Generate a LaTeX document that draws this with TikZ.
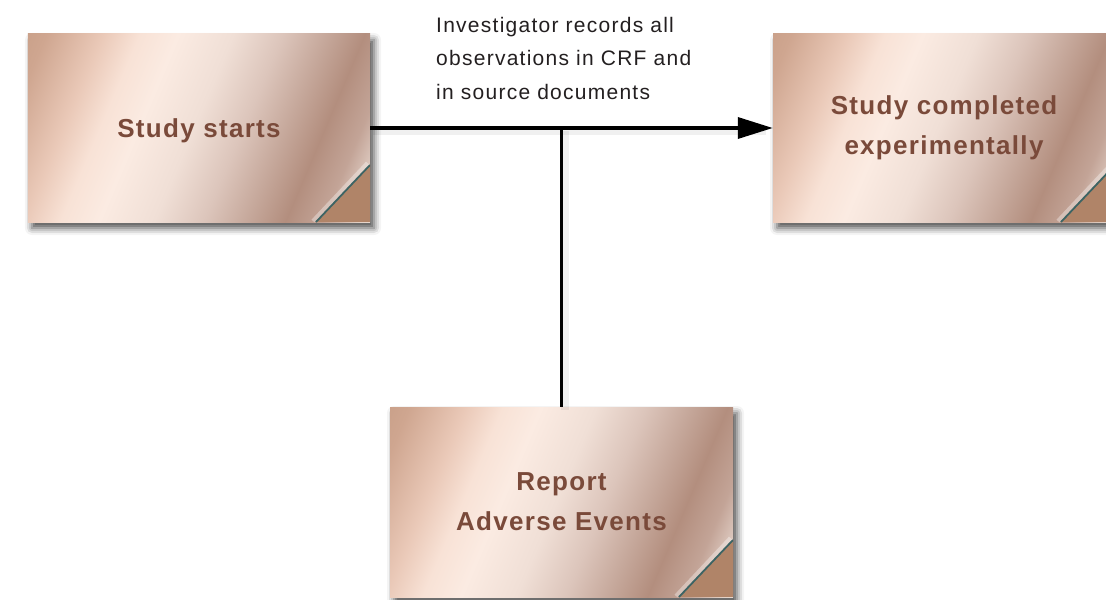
\documentclass[tikz,border=0pt]{standalone}
\usepackage{fontspec}
\setmainfont{Liberation Sans}
\newfontfamily\cardfamily[LetterSpace=5]{Liberation Sans}
\newfontfamily\notefamily[LetterSpace=6]{Liberation Sans}
\usetikzlibrary{arrows.meta,shadows.blur,calc}

\definecolor{cardtext}{HTML}{7A4A3A}
\definecolor{notetext}{HTML}{231F20}
\definecolor{foldtan}{HTML}{B08468}
\definecolor{foldedge}{HTML}{3C6464}

% copper foil colours, left to right across the card
\definecolor{cuA}{HTML}{C49B83}
\definecolor{cuB}{HTML}{CFA690}
\definecolor{cuC}{HTML}{EAC9B8}
\definecolor{cuD}{HTML}{F8E2D6}
\definecolor{cuE}{HTML}{FBEBE2}
\definecolor{cuF}{HTML}{F0DFD6}
\definecolor{cuG}{HTML}{DCC5BB}
\definecolor{cuH}{HTML}{C5A79A}
\definecolor{cuI}{HTML}{B38E7E}
\definecolor{cuJ}{HTML}{C3A497}
\definecolor{cuK}{HTML}{ECDED6}
\definecolor{cuL}{HTML}{F6ECE6}

\pgfdeclarehorizontalshading{copper}{100bp}{%
  color(0bp)=(cuA); color(28.3bp)=(cuA); color(32.3bp)=(cuB);
  color(37.5bp)=(cuC); color(40.9bp)=(cuD); color(44.4bp)=(cuE);
  color(49.5bp)=(cuF); color(54.1bp)=(cuG); color(58.2bp)=(cuH);
  color(61.6bp)=(cuI); color(65bp)=(cuJ); color(68.5bp)=(cuK);
  color(70.8bp)=(cuL); color(100bp)=(cuL)}

\tikzset{
  card/.style={
    rectangle, minimum width=342bp, minimum height=188bp, inner sep=0pt,
    align=center, text=cardtext,
    font=\cardfamily\bfseries\fontsize{26bp}{40bp}\selectfont,
    blur shadow={shadow xshift=4bp, shadow yshift=-6bp,
                 shadow blur radius=7bp, shadow opacity=70},
    path picture={
      % slanted metallic sheen: an upright shaded square, turned as a whole
      \begin{scope}[transform canvas={rotate around={-23:(path picture bounding box.center)}}]
        \shade[shading=copper]
          ([shift={(-250bp,-250bp)}]path picture bounding box.center)
          rectangle ++(500bp,500bp);
      \end{scope}
      % turned-up corner
      \fill[foldtan]
        ([yshift=57bp]path picture bounding box.south east)
        -- ([xshift=-54bp]path picture bounding box.south east)
        -- (path picture bounding box.south east) -- cycle;
      \draw[white, opacity=.35, line width=4bp]
        ([shift={(-2.5bp,59bp)}]path picture bounding box.south east)
        -- ([shift={(-57bp,1bp)}]path picture bounding box.south east);
      \draw[foldedge, line width=1.8bp]
        ([yshift=57bp]path picture bounding box.south east)
        -- ([xshift=-54bp]path picture bounding box.south east);
    }},
  note/.style={
    align=left, inner sep=0pt, text=notetext,
    font=\notefamily\fontsize{21bp}{33.5bp}\selectfont},
  conn/.style={draw=black, line width=3.5bp},
  connshade/.style={draw=black, line width=8bp, draw opacity=0.06,
    transform canvas={shift={(3bp,-3bp)}}},
}

\begin{document}
\begin{tikzpicture}[x=1bp,y=1bp]
  \useasboundingbox (0,0) rectangle (1106,-600);

  \node[card, text depth=0pt] (start) at (199,-128) {Study starts};
  \node[card] (done) at (944,-128) {Study completed\\experimentally};
  \node[card, minimum width=343bp, minimum height=190bp] (report)
    at (561.5,-502) {Report\\Adverse Events};

  \node[note, anchor=north west] (obs) at (436,-17)
    {Investigator records all\\observations in CRF and\\in source documents};

  % soft shadows under the connectors
  \draw[connshade] (start.east) -- ([xshift=-10bp]done.west);
  \draw[connshade] (report.north) -- (report.north |- start.east);

  \draw[conn, -{Triangle[length=35bp,width=21bp]}] (start.east) -- (done.west);
  \draw[conn] (report.north) -- (report.north |- start.east);
\end{tikzpicture}
\end{document}
